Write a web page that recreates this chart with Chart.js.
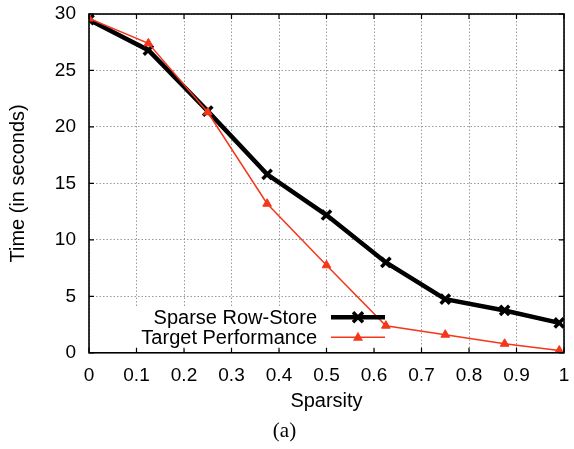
<!DOCTYPE html>
<html>
<head>
<meta charset="utf-8">
<script src="https://cdn.jsdelivr.net/npm/chart.js@4/dist/chart.umd.min.js"></script>
<style>
html,body{margin:0;padding:0;background:#fff;}
#wrap{width:574px;height:449px;}
</style>
</head>
<body>
<div id="wrap"><canvas id="c" width="574" height="449"></canvas></div>
<script>
const sparsity = [0, 0.125, 0.25, 0.375, 0.5, 0.625, 0.75, 0.875, 0.99];
const rowStore = [29.5, 26.8, 21.4, 15.8, 12.2, 8.0, 4.75, 3.75, 2.65];
const target = [29.6, 27.4, 21.3, 13.2, 7.75, 2.4, 1.6, 0.8, 0.2];
const xTickLabels = ['0', '0.1', '0.2', '0.3', '0.4', '0.5', '0.6', '0.7', '0.8', '0.9', '1'];
const yTickLabels = ['0', '5', '10', '15', '20', '25', '30'];
const seriesNames = ['Sparse Row-Store', 'Target Performance'];
const xTitle = 'Sparsity';
const yTitle = 'Time (in seconds)';
const caption = '(a)';

const RED = '#f4361a';
const SANS = '"Liberation Sans", Arial, Helvetica, sans-serif';

function pts(xs, ys) { return xs.map((x, i) => ({x: x, y: ys[i]})); }

const framePlugin = {
  id: 'frame',
  beforeDatasetsDraw(chart) {
    const {ctx, chartArea: a} = chart;
    ctx.save();
    ctx.fillStyle = '#fff';
    ctx.fillRect(a.left + 43, a.bottom - 46, 254, 43);
    ctx.restore();
  },
  afterDatasetsDraw(chart) {
    const {ctx, chartArea: a, scales} = chart;
    ctx.save();
    ctx.strokeStyle = '#000';
    ctx.lineWidth = 1.6;
    ctx.strokeRect(a.left, a.top, a.right - a.left, a.bottom - a.top);
    ctx.lineWidth = 1.2;
    const tl = 5;
    ctx.beginPath();
    scales.x.ticks.forEach(t => {
      const px = scales.x.getPixelForValue(t.value);
      ctx.moveTo(px, a.bottom); ctx.lineTo(px, a.bottom - tl);
      ctx.moveTo(px, a.top); ctx.lineTo(px, a.top + tl);
    });
    scales.y.ticks.forEach(t => {
      const py = scales.y.getPixelForValue(t.value);
      ctx.moveTo(a.left, py); ctx.lineTo(a.left + tl, py);
      ctx.moveTo(a.right, py); ctx.lineTo(a.right - tl, py);
    });
    ctx.stroke();

    // legend
    const textRight = a.left + 228;
    const lx0 = a.left + 242, lx1 = a.left + 296, mx = (lx0 + lx1) / 2;
    const rows = [a.bottom - 35.5, a.bottom - 15.5];
    ctx.font = '20px ' + SANS;
    ctx.fillStyle = '#000';
    ctx.textAlign = 'right';
    ctx.textBaseline = 'middle';
    ctx.fillText(seriesNames[0], textRight, rows[0] + 1);
    ctx.fillText(seriesNames[1], textRight, rows[1] + 1);
    ctx.strokeStyle = '#000';
    ctx.lineWidth = 4.5;
    ctx.beginPath(); ctx.moveTo(lx0, rows[0]); ctx.lineTo(lx1, rows[0]); ctx.stroke();
    ctx.lineWidth = 3.5;
    const r = 5;
    ctx.beginPath();
    ctx.moveTo(mx - r, rows[0] - r); ctx.lineTo(mx + r, rows[0] + r);
    ctx.moveTo(mx + r, rows[0] - r); ctx.lineTo(mx - r, rows[0] + r);
    ctx.stroke();
    ctx.strokeStyle = RED;
    ctx.fillStyle = RED;
    ctx.lineWidth = 1.5;
    ctx.beginPath(); ctx.moveTo(lx0, rows[1]); ctx.lineTo(lx1, rows[1]); ctx.stroke();
    const tr = 5;
    ctx.beginPath();
    ctx.moveTo(mx, rows[1] - tr * 1.1);
    ctx.lineTo(mx + tr, rows[1] + tr * 0.7);
    ctx.lineTo(mx - tr, rows[1] + tr * 0.7);
    ctx.closePath(); ctx.fill();
    ctx.restore();
  }
};

new Chart(document.getElementById('c'), {
  type: 'line',
  data: {
    datasets: [
      {
        label: seriesNames[0],
        data: pts(sparsity, rowStore),
        borderColor: '#000',
        backgroundColor: '#000',
        borderWidth: 4.5,
        pointStyle: 'crossRot',
        pointRadius: 6.5,
        pointBorderWidth: 3.5,
        pointBorderColor: '#000',
        order: 1,
        tension: 0
      },
      {
        label: seriesNames[1],
        data: pts(sparsity, target),
        borderColor: RED,
        backgroundColor: RED,
        borderWidth: 1.5,
        pointStyle: 'triangle',
        pointRadius: 5,
        pointBorderWidth: 1,
        pointBorderColor: RED,
        order: 0,
        tension: 0
      }
    ]
  },
  options: {
    responsive: false,
    animation: false,
    devicePixelRatio: 1,
    layout: {padding: {left: 0, right: 5, top: 14, bottom: 0}},
    plugins: {
      legend: {display: false},
      tooltip: {enabled: false},
      title: {
        display: true,
        position: 'bottom',
        text: caption,
        color: '#000',
        font: {family: '"Liberation Serif", "DejaVu Serif", serif', size: 21, weight: 'normal'},
        padding: {top: 0, bottom: 5}
      }
    },
    scales: {
      x: {
        type: 'linear',
        min: 0, max: 1,
        afterFit(s) { s.height = 66; s.paddingLeft = 0; s.paddingRight = 0; s.paddingTop = 0; s.paddingBottom = 0; },
        afterBuildTicks(s) { s.ticks = xTickLabels.map(l => ({value: parseFloat(l)})); },
        ticks: {
          callback: (v, i) => xTickLabels[i],
          color: '#000',
          font: {family: SANS, size: 19},
          padding: 12,
          maxRotation: 0,
          autoSkip: false
        },
        grid: {color: '#9a9a9a', lineWidth: 1, drawTicks: false},
        border: {display: false, dash: [1.5, 2]},
        title: {
          display: true,
          text: xTitle,
          color: '#000',
          font: {family: SANS, size: 20},
          padding: {top: 0, bottom: 5}
        }
      },
      y: {
        type: 'linear',
        min: 0, max: 30,
        afterFit(s) { s.width = 89; s.paddingLeft = 0; s.paddingRight = 0; s.paddingTop = 0; s.paddingBottom = 0; },
        afterBuildTicks(s) { s.ticks = yTickLabels.map(l => ({value: parseFloat(l)})); },
        ticks: {
          callback: (v, i) => yTickLabels[i],
          color: '#000',
          font: {family: SANS, size: 19},
          padding: 13
        },
        grid: {color: '#9a9a9a', lineWidth: 1, drawTicks: false},
        border: {display: false, dash: [1.5, 2]},
        title: {
          display: true,
          text: yTitle,
          color: '#000',
          font: {family: SANS, size: 20},
          padding: {top: 6, bottom: 0}
        }
      }
    }
  },
  plugins: [framePlugin]
});
</script>
</body>
</html>
